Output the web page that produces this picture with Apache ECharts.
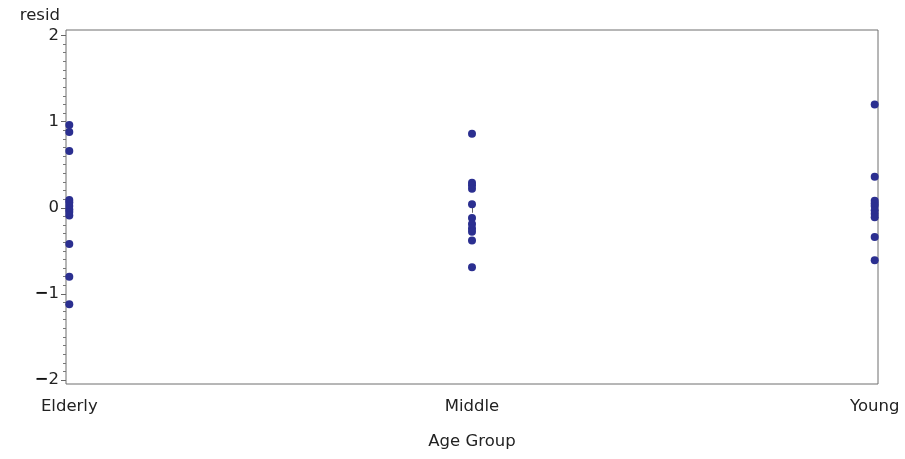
<!DOCTYPE html>
<html>
<head>
<meta charset="utf-8">
<script src="https://cdn.jsdelivr.net/npm/echarts@6/dist/echarts.min.js"></script>
<style>html,body{margin:0;padding:0;background:#fff}#c{width:905px;height:459px}</style>
</head>
<body>
<div id="c"></div>
<script>
const categories = ['Elderly', 'Middle', 'Young'];
const elderlyResid = [0.96, 0.88, 0.66, 0.09, 0.06, 0.02, -0.02, -0.05, -0.09, -0.42, -0.80, -1.12];
const middleResid = [0.86, 0.29, 0.26, 0.22, 0.04, -0.12, -0.19, -0.24, -0.28, -0.38, -0.69];
const youngResid = [1.20, 0.36, 0.08, 0.05, 0.02, -0.03, -0.07, -0.11, -0.34, -0.61];
const yTicks = [-2, -1, 0, 1, 2];

const groups = [elderlyResid, middleResid, youngResid];
const points = [];
groups.forEach((arr, i) => arr.forEach(v => points.push([categories[i], v])));

const FONT = 'DejaVu Sans';
const chart = echarts.init(document.getElementById('c'), null, {renderer: 'canvas'});
chart.setOption({
  animation: false,
  textStyle: {fontFamily: FONT},
  grid: [
    {left: 69.3, right: 30.3, top: 35.5, bottom: 79, containLabel: false},
    {left: 66, right: 27, top: 30, bottom: 75, show: true, borderColor: '#6e6e6e', borderWidth: 1, backgroundColor: 'transparent'}
  ],
  xAxis: [
    {
      type: 'category', gridIndex: 0, data: categories, boundaryGap: false, offset: 4,
      axisLine: {show: false},
      axisTick: {show: true, length: 5, lineStyle: {color: '#666'}},
      axisLabel: {fontFamily: FONT, fontSize: 16.5, color: '#222', margin: 14},
      name: 'Age Group', nameLocation: 'middle', nameGap: 49,
      nameTextStyle: {fontFamily: FONT, fontSize: 16.5, color: '#222'},
      splitLine: {show: false}
    },
    {type: 'value', gridIndex: 1, show: false, min: 0, max: 1}
  ],
  yAxis: [
    {
      type: 'value', gridIndex: 0, min: yTicks[0], max: yTicks[yTicks.length - 1], interval: 1, offset: 3.3,
      axisLine: {show: false},
      axisTick: {show: true, length: 5, lineStyle: {color: '#666'}},
      minorTick: {show: true, splitNumber: 10, length: 3, lineStyle: {color: '#777'}},
      splitLine: {show: false},
      axisLabel: {
        fontFamily: FONT, fontSize: 16.5, color: '#222', margin: 7,
        formatter: v => (v < 0 ? '{m|\u2212}' + Math.abs(v) : String(v)),
        rich: {m: {fontFamily: FONT, fontSize: 16.5, fontWeight: 'bold', color: '#111'}}
      },
      name: 'resid', nameLocation: 'end', nameGap: 11,
      nameTextStyle: {fontFamily: FONT, fontSize: 16.5, color: '#222', align: 'right', verticalAlign: 'bottom', padding: [0, 6, 0, 0]}
    },
    {type: 'value', gridIndex: 1, show: false, min: 0, max: 1}
  ],
  series: [{
    type: 'scatter', xAxisIndex: 0, yAxisIndex: 0,
    data: points, symbol: 'circle', symbolSize: 8,
    itemStyle: {color: '#2B2F90', opacity: 1}
  }]
});
</script>
</body>
</html>
